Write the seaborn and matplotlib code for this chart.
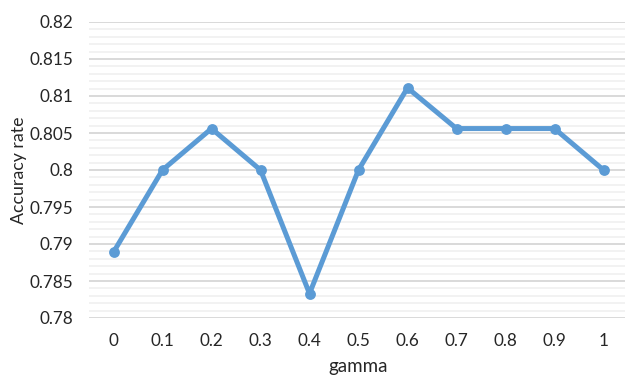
import matplotlib
matplotlib.use("Agg")
import matplotlib.pyplot as plt
from matplotlib.ticker import MultipleLocator, FormatStrFormatter
import seaborn as sns
import pandas as pd
import numpy as np

gamma_labels = ["0", "0.1", "0.2", "0.3", "0.4", "0.5", "0.6", "0.7", "0.8", "0.9", "1"]
accuracy = [0.7889, 0.8, 0.8056, 0.8, 0.7833, 0.8, 0.8111, 0.8056, 0.8056, 0.8056, 0.8]

sns.set_theme(style="white")
plt.rcParams["font.family"] = ["Lato", "DejaVu Sans"]

df = pd.DataFrame({"pos": np.arange(len(gamma_labels)), "acc": accuracy})

fig = plt.figure(figsize=(6.25, 3.75), dpi=100)
W, H = 625, 375
left, right, top, bottom = 89, 628, 22, 318
ax = fig.add_axes([left / W, 1 - bottom / H, (right - left) / W, (bottom - top) / H])

line_color = "#5B9BD5"
sns.lineplot(data=df, x="pos", y="acc", ax=ax, color=line_color, linewidth=3.6,
             marker="o", markersize=7.8, markeredgewidth=0, zorder=3)

ax.set_xlim(-0.5, len(gamma_labels) - 0.5)
ax.set_ylim(0.78, 0.82)
ax.yaxis.set_major_locator(MultipleLocator(0.005))
ax.yaxis.set_minor_locator(MultipleLocator(0.001))
ax.yaxis.set_major_formatter(FormatStrFormatter("%g"))
ax.set_xticks(df["pos"])
ax.set_xticklabels(gamma_labels)

ax.grid(which="major", axis="y", color="#D9D9D9", linewidth=1.4)
ax.grid(which="minor", axis="y", color="#F2F2F2", linewidth=1.4)
ax.grid(which="major", axis="x", visible=False)
ax.set_axisbelow(True)
for s in ax.spines.values():
    s.set_visible(False)

ax.tick_params(axis="both", which="both", length=0, labelsize=12.3, colors="#262626")
ax.tick_params(axis="y", pad=11)
ax.tick_params(axis="x", pad=11)

ax.set_xlabel("gamma", fontsize=13.5, color="#262626", labelpad=6)
ax.set_ylabel("Accuracy rate", fontsize=12.8, color="#262626", labelpad=2)

fig.savefig("out.png", dpi=100)
